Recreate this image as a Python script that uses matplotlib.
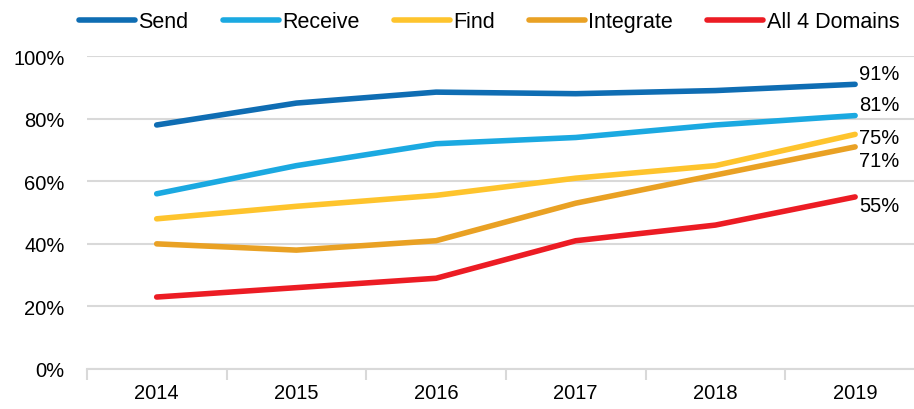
import numpy as np
import matplotlib.pyplot as plt
from matplotlib.ticker import FixedLocator, PercentFormatter

plt.rcParams['font.family'] = ['Liberation Sans', 'DejaVu Sans']

# Data (share of respondents, %)
years = ['2014', '2015', '2016', '2017', '2018', '2019']
send = [78, 85, 88.5, 88, 89, 91]
receive = [56, 65, 72, 74, 78, 81]
find = [48, 52, 55.5, 61, 65, 75]
integrate = [40, 38, 41, 53, 62, 71]
all_four = [23, 26, 29, 41, 46, 55]

series = [
    ('Send', send, '#0f6db3', -8),
    ('Receive', receive, '#1ba9e1', -8),
    ('Find', find, '#fec42d', 2),
    ('Integrate', integrate, '#e9a124', 10),
    ('All 4 Domains', all_four, '#ec1c24', 6),
]

fig = plt.figure(figsize=(9.14, 4.10), dpi=100)
ax = fig.add_axes([0.095, 0.0976, 0.917, 0.763])

x = np.arange(len(years))
for name, vals, color, dy in series:
    ax.plot(x, vals, color=color, lw=4, solid_capstyle='round', label=name, zorder=3)
    ax.annotate(f'{vals[-1]:.0f}%', (x[-1], vals[-1]), xytext=(3, -dy),
                textcoords='offset points', ha='left', va='center', fontsize=14.5)

ax.set_xlim(-0.5, len(years) - 0.5)
ax.set_ylim(0, 100)
ax.set_yticks(np.arange(0, 101, 20))
ax.yaxis.set_major_formatter(PercentFormatter(decimals=0))
ax.grid(axis='y', color='#d9d9d9', lw=1.5, zorder=0)

ax.set_xticks(x)
ax.set_xticklabels(years)
ax.xaxis.set_minor_locator(FixedLocator(np.arange(-0.5, len(years), 1)))
ax.tick_params(axis='x', which='major', length=0, pad=10, labelsize=14.5)
ax.tick_params(axis='x', which='minor', length=8, width=1.5, color='#d9d9d9', direction='out')
ax.tick_params(axis='y', length=0, pad=16, labelsize=14.5)

for s in ['top', 'right', 'left']:
    ax.spines[s].set_visible(False)
ax.spines['bottom'].set_color('#d9d9d9')
ax.spines['bottom'].set_linewidth(1.5)

fig.legend(loc='center', bbox_to_anchor=(0.535, 0.945), ncol=5, frameon=False,
           fontsize=15.5, handlelength=2.6, handletextpad=0.15, columnspacing=1.6)

plt.savefig('out.png', dpi=100)
